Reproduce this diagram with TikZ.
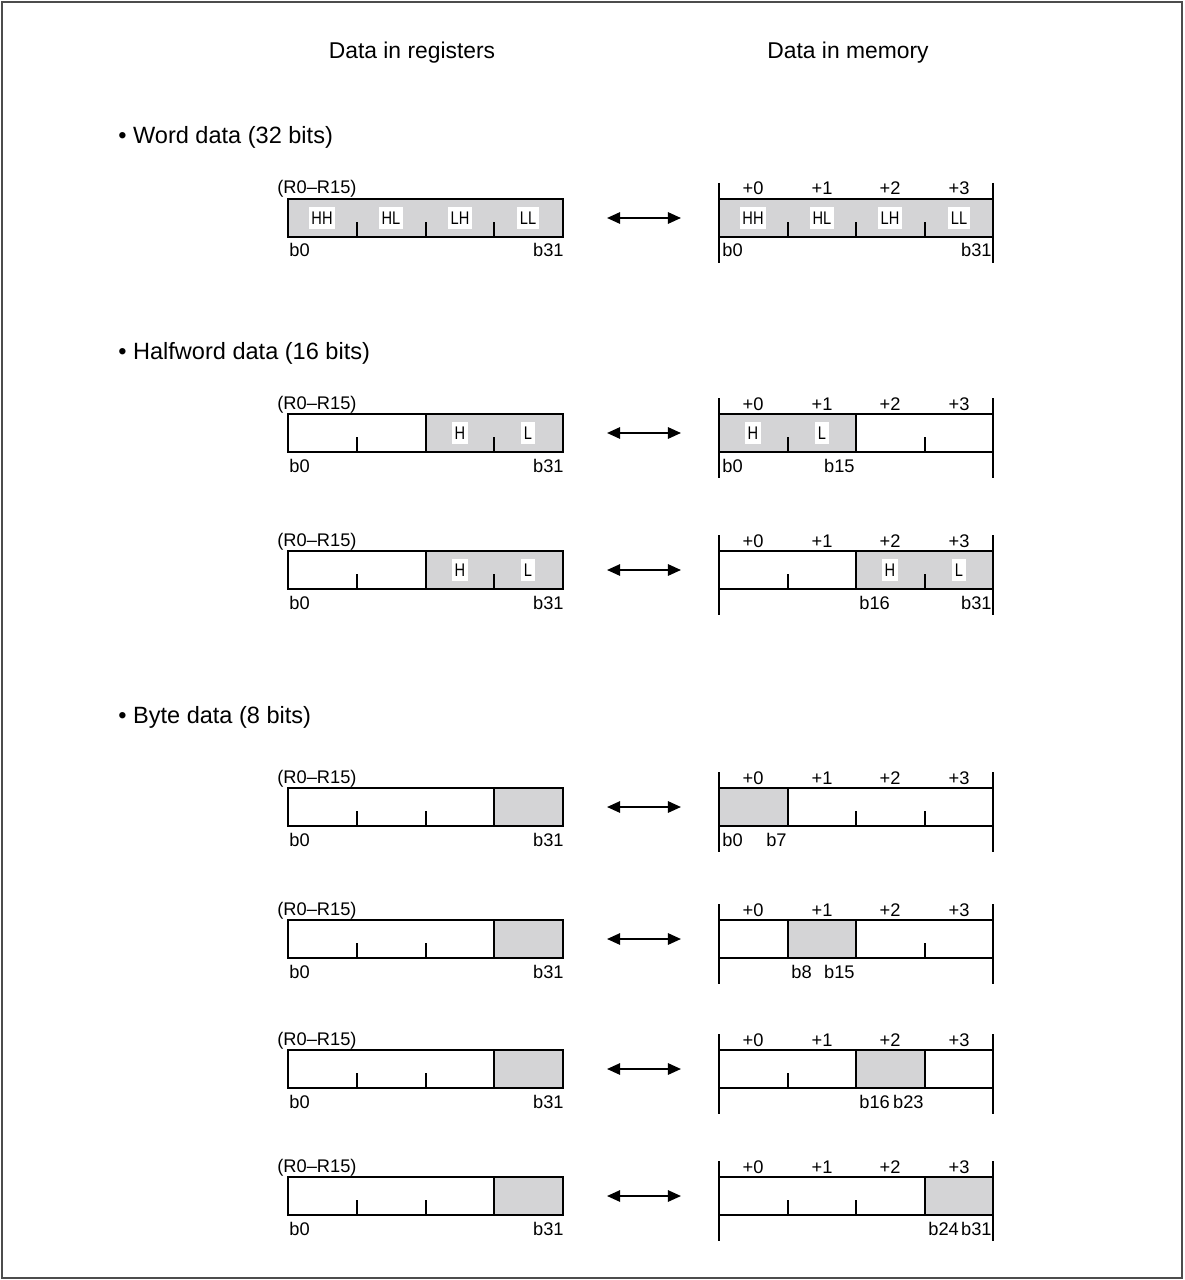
\documentclass[tikz,border=0pt]{standalone}
\usepackage{fontspec}
\setmainfont{Liberation Sans}
\usetikzlibrary{arrows.meta}
\definecolor{fieldgray}{RGB}{212,212,214}

\begin{document}
\begin{tikzpicture}[x=0.02cm, y=-0.02cm,
	every node/.style={font=\fontsize{10.4}{12}\selectfont, inner sep=0pt},
	>={Triangle[length=7.5pt, width=6.5pt]},
	heading/.style={font=\fontsize{13}{15}\selectfont},
	regframe/.style={line width=1.3pt},
	bittick/.style={line width=0.9pt},
	memwall/.style={line width=0.9pt},
	bytecell/.style={fill=white, inner xsep=1.5pt, inner ysep=2.5pt, font=\fontsize{10.4}{12}\selectfont\addfontfeature{FakeStretch=0.8}}]
	\useasboundingbox (0,0) rectangle (1185,1280);
	\draw[black!70, line width=0.6pt] (2,2) rectangle (1182,1278);
	\node[heading] (hreg) at (412,53) {Data in registers};
	\node[heading] (hmem) at (848,53) {Data in memory};
	\node[heading, anchor=west, font=\fontsize{13.4}{15}\selectfont] (sword) at (118,137) {• Word data (32 bits)};
	\node[heading, anchor=west, font=\fontsize{13.4}{15}\selectfont] (shalf) at (118,353) {• Halfword data (16 bits)};
	\node[heading, anchor=west, font=\fontsize{13.4}{15}\selectfont] (sbyte) at (118,717) {• Byte data (8 bits)};
	% one row per case: top / register shade start / memory shade span / memory bit labels
	\foreach \y/\rs/\ms/\me/\blo/\bhi [count=\i] in {199/288/719/993/b0/b31, 414/426/719/856/b0/b15, 551/426/856/993/b16/b31, 788/494/719/788/b0/b7, 920/494/788/856/b8/b15, 1050/494/856/925/b16/b23, 1177/494/925/993/b24/b31} {
		% register
		\fill[fieldgray] (\rs,\y) rectangle (563,\y+38);
		\foreach \t in {357,426,494} \draw[bittick] (\t,\y+38) -- ++(0,-15);
		\draw[regframe] (\rs,\y) rectangle (563,\y+38);
		\draw[regframe] (288,\y) rectangle (563,\y+38);
		\node[anchor=base west] (rtag\i) at (277,\y-5) {(R0--R15)};
		\node[anchor=base west] (rlo\i) at (289,\y+58) {b0};
		\node[anchor=base east] (rhi\i) at (564,\y+58) {b31};
		% arrow
		\coordinate (al\i) at (607,\y+19);
		\coordinate (ar\i) at (681,\y+19);
		\draw[<->, line width=1.1pt] (al\i) -- (ar\i);
		% memory
		\fill[fieldgray] (\ms,\y) rectangle (\me,\y+38);
		\foreach \t in {788,856,925} \draw[bittick] (\t,\y+38) -- ++(0,-15);
		\draw[regframe] (\ms,\y) rectangle (\me,\y+38);
		\draw[regframe] (719,\y) -- (993,\y) (719,\y+38) -- (993,\y+38);
		\draw[memwall] (719,\y-16) -- (719,\y+64);
		\draw[memwall] (993,\y-16) -- (993,\y+64);
		\foreach \x [count=\j from 0] in {753,822,890,959}
			\node[anchor=base] (off\i\j) at (\x,\y-4) {+\j};
		\node[anchor=base west] (mlo\i) at (\ms+3,\y+58) {\blo};
		\node[anchor=base east] (mhi\i) at (\me-1,\y+58) {\bhi};
	}
	% byte names
	\foreach \x/\t in {322/HH,391/HL,460/LH,528/LL} \node[bytecell] (rw\t) at (\x,218) {\t};
	\foreach \x/\t in {753/HH,822/HL,890/LH,959/LL} \node[bytecell] (mw\t) at (\x,218) {\t};
	\foreach \y [count=\i] in {414,551} {
		\node[bytecell] (rh\i) at (460,\y+19) {H};
		\node[bytecell] (rl\i) at (528,\y+19) {L};
	}
	\node[bytecell] (mh1) at (753,433) {H};
	\node[bytecell] (ml1) at (822,433) {L};
	\node[bytecell] (mh2) at (890,570) {H};
	\node[bytecell] (ml2) at (959,570) {L};
\end{tikzpicture}
\end{document}
